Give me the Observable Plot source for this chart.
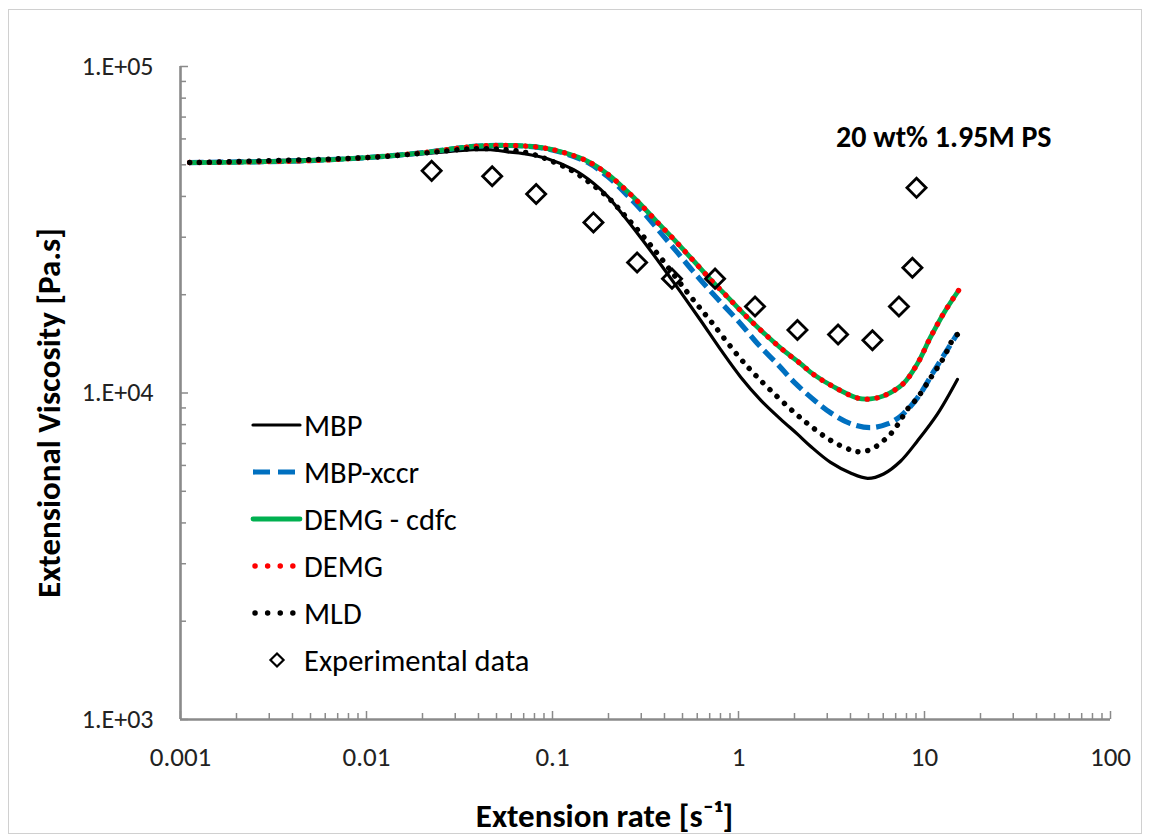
<!DOCTYPE html>
<html>
<head>
<meta charset="utf-8">
<script src="https://cdn.jsdelivr.net/npm/d3@7"></script>
<script src="https://cdn.jsdelivr.net/npm/@observablehq/plot@0.6"></script>
<style>
  html, body { margin: 0; padding: 0; background: #fff; }
  #wrap { position: relative; width: 1149px; height: 839px; overflow: hidden; }
  #frame { position: absolute; left: 8px; top: 9px; width: 1132px; height: 823px; border: 1px solid #d0d0d0; pointer-events: none; }
  svg { display: block; }
</style>
</head>
<body>
<div id="wrap"><div id="chart"></div><div id="frame"></div></div>
<script>
// ---------------- data ----------------
const rateMBP = [0.00112, 0.01, 0.0205, 0.0376, 0.0465, 0.0573, 0.0698, 0.094, 0.130, 0.166, 0.198, 0.232, 0.297, 0.381, 0.488, 0.625, 0.80, 1.026, 1.312, 1.683, 2.075, 2.438, 3.126, 4.0, 4.943, 6.026, 7.43, 9.162, 11.75, 15.03];
const viscMBP = [50800, 52600, 54100, 55600, 55600, 54800, 54100, 52200, 48300, 43900, 40000, 35900, 30000, 24800, 20400, 16700, 13600, 11200, 9530, 8320, 7480, 6870, 6130, 5690, 5480, 5650, 6180, 7130, 8630, 11000];

const rateXCCR = [0.00112, 0.0044, 0.01, 0.0205, 0.0376, 0.0573, 0.0861, 0.115, 0.154, 0.198, 0.253, 0.301, 0.390, 0.470, 0.566, 0.681, 0.821, 1.026, 1.282, 1.622, 2.023, 2.594, 3.126, 4.0, 5.129, 6.324, 7.43, 9.162, 11.17, 13.3, 15.03];
const viscXCCR = [50800, 51400, 52600, 54500, 56900, 57300, 56400, 54300, 50900, 46000, 40300, 36300, 30500, 26900, 23700, 21000, 18700, 16300, 14050, 12250, 10700, 9440, 8700, 8060, 7830, 8040, 8490, 9660, 11600, 13600, 15200];

const rateCDFC = [0.00112, 0.0044, 0.01, 0.0205, 0.0376, 0.0573, 0.0861, 0.115, 0.154, 0.198, 0.253, 0.290, 0.367, 0.448, 0.566, 0.706, 0.872, 1.064, 1.362, 1.746, 2.153, 2.529, 3.243, 4.365, 5.129, 6.026, 7.709, 9.162, 10.76, 12.65, 15.24];
const viscCDFC = [50800, 51400, 52600, 54500, 56900, 57300, 56500, 54500, 51300, 46800, 41400, 38400, 33300, 29600, 25600, 22300, 19700, 17500, 15300, 13500, 12300, 11400, 10450, 9650, 9590, 9800, 10700, 12300, 14800, 17500, 20600];

const rateDEMG = [0.00112, 0.0044, 0.01, 0.0205, 0.0376, 0.0573, 0.0861, 0.115, 0.154, 0.198, 0.253, 0.290, 0.367, 0.448, 0.566, 0.706, 0.872, 1.064, 1.362, 1.746, 2.153, 2.529, 3.243, 4.365, 5.129, 6.026, 7.709, 9.162, 10.76, 12.65, 15.24];
const viscDEMG = [50800, 51400, 52600, 54500, 56900, 57300, 56500, 54500, 51300, 46800, 41400, 38400, 33300, 29600, 25600, 22300, 19700, 17500, 15300, 13500, 12300, 11400, 10450, 9650, 9590, 9800, 10700, 12300, 14800, 17500, 20600];

const rateMLD = [0.00112, 0.01, 0.0205, 0.0376, 0.0573, 0.0762, 0.0975, 0.127, 0.160, 0.201, 0.242, 0.297, 0.381, 0.532, 0.706, 0.989, 1.205, 1.486, 1.977, 2.438, 3.126, 4.0, 4.529, 5.248, 5.94, 6.561, 7.16, 8.11, 9.162, 10.76, 12.65, 14.32, 15.24];
const viscMLD = [50800, 52600, 54300, 56000, 55600, 54100, 51500, 48000, 43900, 39500, 35200, 30900, 26000, 20300, 16650, 13050, 11500, 10200, 8760, 7930, 7160, 6700, 6600, 6750, 7100, 7480, 7980, 8930, 9660, 11100, 12800, 14700, 15200];

const rateExp = [0.0224, 0.0474, 0.0817, 0.166, 0.285, 0.439, 0.748, 1.227, 2.075, 3.43, 5.25, 7.29, 8.61, 9.06];
const viscExp = [47900, 46100, 40700, 33300, 25100, 22400, 22400, 18400, 15600, 15100, 14500, 18400, 24200, 42500];

const seriesNames = ["MBP", "MBP-xccr", "DEMG - cdfc", "DEMG", "MLD", "Experimental data"];

const xTickValues = [0.001, 0.01, 0.1, 1, 10, 100];
const xTickLabels = ["0.001", "0.01", "0.1", "1", "10", "100"];
const yTickValues = [1000, 10000, 100000];
const yTickLabels = ["1.E+03", "1.E+04", "1.E+05"];

const noteRate = [12.7];
const noteVisc = [60500];
const noteText = ["20 wt% 1.95M PS"];

const xTitle = "Extension rate [s\u207B\u00B9]";
const yTitle = "Extensional Viscosity [Pa.s]";

// ---------------- layout & styles ----------------
const W = 1149, H = 839, ML = 180, MR = 39, MT = 66, MB = 120;
const FW = W - ML - MR, FH = H - MT - MB;
const FONT = "Carlito, Calibri, Lato, 'Noto Sans', sans-serif";
const AXIS = "#8a8a8a";

const styles = [
  {stroke: "#000000", strokeWidth: 3.2, strokeDasharray: null, strokeLinecap: "round"},
  {stroke: "#0070C0", strokeWidth: 5.2, strokeDasharray: "14,6", strokeLinecap: "butt"},
  {stroke: "#00B050", strokeWidth: 4.8, strokeDasharray: null, strokeLinecap: "round"},
  {stroke: "#FF0000", strokeWidth: 5.4, strokeDasharray: "0.1,9.8", strokeLinecap: "round"},
  {stroke: "#000000", strokeWidth: 5.4, strokeDasharray: "0.1,9.8", strokeLinecap: "round"}
];

const table = (xs, ys) => xs.map((x, i) => ({x, y: ys[i]}));
const lineData = [
  table(rateMBP, viscMBP), table(rateXCCR, viscXCCR), table(rateCDFC, viscCDFC),
  table(rateDEMG, viscDEMG), table(rateMLD, viscMLD)
];
const expData = table(rateExp, viscExp);

const minorX = d3.scaleLog().domain([0.001, 100]).ticks().filter(v => !xTickValues.some(t => Math.abs(t - v) / t < 1e-9));
const minorY = d3.scaleLog().domain([1000, 100000]).ticks().filter(v => !yTickValues.includes(v));

const lineMarks = lineData.map((d, i) => Plot.line(d, {
  x: "x", y: "y", curve: "catmull-rom",
  stroke: styles[i].stroke, strokeWidth: styles[i].strokeWidth,
  strokeDasharray: styles[i].strokeDasharray, strokeLinecap: styles[i].strokeLinecap
}));

const chart = Plot.plot({
  width: W, height: H,
  marginLeft: ML, marginRight: MR, marginTop: MT, marginBottom: MB,
  x: {type: "log", domain: [0.001, 100], axis: null},
  y: {type: "log", domain: [1000, 100000], axis: null},
  style: {fontFamily: FONT, background: "transparent", overflow: "visible", color: "#000"},
  marks: [
    Plot.tickX(minorX, {x: d => d, insetTop: FH - 6, stroke: AXIS, strokeWidth: 1.5}),
    Plot.tickX(xTickValues, {x: d => d, insetTop: FH - 8, stroke: AXIS, strokeWidth: 1.5}),
    Plot.tickY(minorY, {y: d => d, insetRight: FW - 6, stroke: AXIS, strokeWidth: 1.5}),
    Plot.tickY(yTickValues, {y: d => d, insetRight: FW - 8, stroke: AXIS, strokeWidth: 1.5}),
    Plot.ruleY([1000], {stroke: AXIS, strokeWidth: 2.6}),
    Plot.ruleX([0.001], {stroke: AXIS, strokeWidth: 2.6}),
    ...lineMarks,
    Plot.dot(expData, {x: "x", y: "y", symbol: "diamond2", r: 8.6, stroke: "#000", strokeWidth: 2.8, fill: "none"}),
    Plot.text(xTickValues, {x: d => d, frameAnchor: "bottom", lineAnchor: "middle", textAnchor: "middle", dy: 38, text: (d, i) => xTickLabels[i], fontSize: 27, fill: "#222"}),
    Plot.text(yTickValues, {y: d => d, frameAnchor: "left", lineAnchor: "middle", dx: -27, textAnchor: "end", text: (d, i) => yTickLabels[i], fontSize: 26, fill: "#222"}),
    Plot.text(noteText, {x: (d, i) => noteRate[i], y: (d, i) => noteVisc[i], text: d => d, fontSize: 30, fontWeight: "bold", fill: "#000"}),
    Plot.text([xTitle], {frameAnchor: "bottom", lineAnchor: "middle", textAnchor: "middle", dx: -41, dy: 97, text: d => d, fontSize: 33, fontWeight: "bold", fill: "#000"}),
    Plot.text([yTitle], {frameAnchor: "left", lineAnchor: "middle", textAnchor: "middle", dx: -131, dy: 20, rotate: -90, text: d => d, fontSize: 33, fontWeight: "bold", fill: "#000"})
  ]
});

document.getElementById("chart").appendChild(chart);

// ---------------- legend (inside the plot area) ----------------
const svg = d3.select(chart);
const lg = svg.append("g").attr("font-family", FONT).attr("font-size", 30.5).attr("text-anchor", "start");
const lx0 = 253, lx1 = 300, ltx = 304, ly0 = 425, ldy = 47;
seriesNames.forEach((name, i) => {
  const yy = ly0 + i * ldy;
  if (i < styles.length) {
    const s = styles[i];
    const dotted = s.strokeDasharray && s.strokeDasharray.startsWith("0.1");
    lg.append("line")
      .attr("x1", lx0 + (dotted ? 2 : 0)).attr("x2", lx1)
      .attr("y1", yy).attr("y2", yy)
      .attr("stroke", s.stroke).attr("stroke-width", s.strokeWidth)
      .attr("stroke-dasharray", dotted ? "0.1,12.5" : (s.strokeDasharray ? "17,8" : null))
      .attr("stroke-linecap", s.strokeLinecap);
  } else {
    lg.append("path")
      .attr("transform", `translate(${277},${yy})`)
      .attr("d", d3.symbol(d3.symbolDiamond2, 110)())
      .attr("fill", "none").attr("stroke", "#000").attr("stroke-width", 2.2);
  }
  lg.append("text").attr("x", ltx).attr("y", yy).attr("dy", "0.35em").attr("fill", "#000").text(name);
});
</script>
</body>
</html>
